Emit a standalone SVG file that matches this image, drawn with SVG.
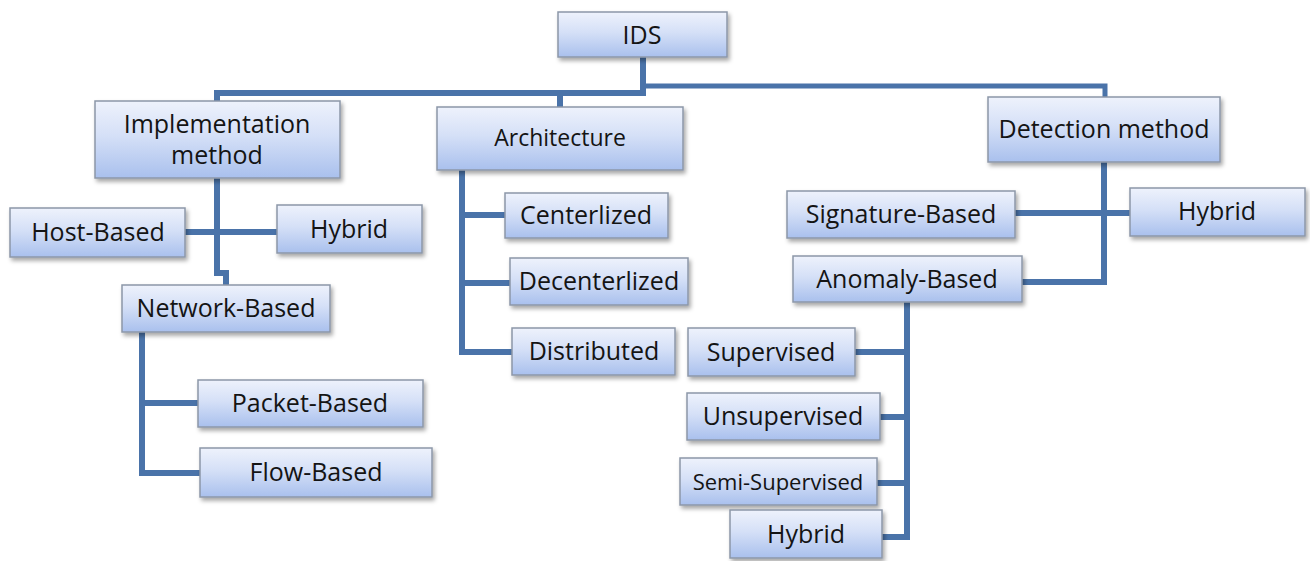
<svg xmlns="http://www.w3.org/2000/svg" width="1310" height="561" viewBox="0 0 1310 561">
<defs>
<linearGradient id="g" x1="0" y1="0" x2="0" y2="1">
<stop offset="0" stop-color="#eef2fc"/>
<stop offset="0.45" stop-color="#d5e0f7"/>
<stop offset="1" stop-color="#a9c0ed"/>
</linearGradient>
<filter id="sh" x="-10%" y="-10%" width="125%" height="135%">
<feDropShadow dx="2" dy="3" stdDeviation="2" flood-color="#000" flood-opacity="0.35"/>
</filter>
</defs>
<style>
.box{fill:url(#g);stroke:#8c97a8;stroke-width:1.5;filter:url(#sh)}
.t{font-family:"Open Sans","Liberation Sans",sans-serif;font-size:25px;fill:#141414;text-anchor:middle}
.s{font-size:22px}
.a{font-size:23px}
.c{fill:none;stroke:#4a73a9;stroke-width:6;stroke-linejoin:miter}
.thin{stroke-width:5}
</style>
<rect width="1310" height="561" fill="#ffffff"/>
<g id="connectors">
<path class="c" d="M643 57 V93 H217 V101"/>
<path class="c thin" d="M643 86 H1105 V97"/>
<path class="c" d="M560 93 V107"/>
<path class="c" d="M217 178 V273 H226 V285"/>
<path class="c" d="M185 232 H277"/>
<path class="c" d="M142 332 V473 H200 M142 403 H198"/>
<path class="c" d="M462 170 V352 H512 M462 215 H505 M462 283 H510"/>
<path class="c" d="M1104 162 V282 H1022 M1015 213 H1130"/>
<path class="c" d="M907 302 V537 H882 M907 352 H855 M907 417 H880 M907 483 H877"/>
</g>
<g id="ids"><rect class="box" x="558" y="12" width="169" height="45"/><text class="t" x="642" y="44">IDS</text></g>
<g id="implementation"><rect class="box" x="95" y="101" width="245" height="77"/><text class="t" x="217" y="133">Implementation</text><text class="t" x="217" y="164">method</text></g>
<g id="architecture"><rect class="box" x="437" y="107" width="246" height="63"/><text class="t a" x="560" y="146">Architecture</text></g>
<g id="detection"><rect class="box" x="988" y="97" width="232" height="65"/><text class="t" x="1104" y="138">Detection method</text></g>
<g id="host-based"><rect class="box" x="10" y="208" width="175" height="49"/><text class="t" x="98" y="241">Host-Based</text></g>
<g id="hybrid-impl"><rect class="box" x="277" y="205" width="145" height="48"/><text class="t" x="349" y="238">Hybrid</text></g>
<g id="network-based"><rect class="box" x="122" y="285" width="208" height="47"/><text class="t" x="226" y="317">Network-Based</text></g>
<g id="packet-based"><rect class="box" x="198" y="380" width="225" height="47"/><text class="t" x="310" y="412">Packet-Based</text></g>
<g id="flow-based"><rect class="box" x="200" y="448" width="232" height="49"/><text class="t" x="316" y="481">Flow-Based</text></g>
<g id="centerlized"><rect class="box" x="505" y="193" width="163" height="45"/><text class="t" x="586" y="224">Centerlized</text></g>
<g id="decenterlized"><rect class="box" x="510" y="258" width="178" height="47"/><text class="t" x="599" y="290">Decenterlized</text></g>
<g id="distributed"><rect class="box" x="512" y="328" width="163" height="47"/><text class="t" x="594" y="360">Distributed</text></g>
<g id="signature-based"><rect class="box" x="787" y="191" width="228" height="47"/><text class="t" x="901" y="223">Signature-Based</text></g>
<g id="hybrid-detection"><rect class="box" x="1130" y="188" width="175" height="48"/><text class="t" x="1217" y="220">Hybrid</text></g>
<g id="anomaly-based"><rect class="box" x="793" y="256" width="229" height="46"/><text class="t" x="907" y="288">Anomaly-Based</text></g>
<g id="supervised"><rect class="box" x="688" y="328" width="167" height="48"/><text class="t" x="771" y="361">Supervised</text></g>
<g id="unsupervised"><rect class="box" x="687" y="393" width="193" height="47"/><text class="t" x="783" y="425">Unsupervised</text></g>
<g id="semi-supervised"><rect class="box" x="680" y="458" width="197" height="47"/><text class="t s" x="778" y="490">Semi-Supervised</text></g>
<g id="hybrid-anomaly"><rect class="box" x="730" y="510" width="152" height="48"/><text class="t" x="806" y="543">Hybrid</text></g>
</svg>
